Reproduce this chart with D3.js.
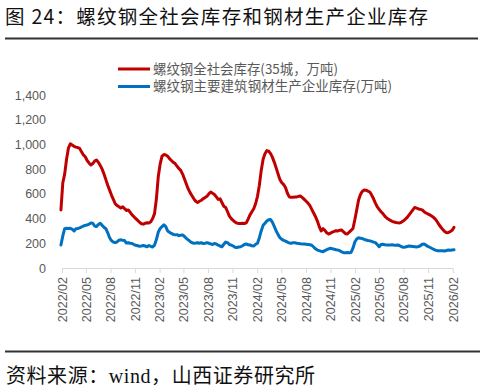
<!DOCTYPE html>
<html><head><meta charset="utf-8">
<script src="https://cdn.jsdelivr.net/npm/d3@7"></script>
<style>body{margin:0;background:#fff;}svg{display:block;}</style>
</head><body>
<svg id="c" width="485" height="392"></svg>
<script>
const titleText = "图 24：螺纹钢全社会库存和钢材生产企业库存";
const sourceText = ["资料来源：", "wind", "，山西证券研究所"];
const seriesNames = ["螺纹钢全社会库存(35城，万吨)", "螺纹钢主要建筑钢材生产企业库存(万吨)"];
const startDate = "2022-01-28"; // first weekly observation
const yTicks = [0, 200, 400, 600, 800, 1000, 1200, 1400];
const xTickLabels = ["2022/02","2022/05","2022/08","2022/11","2023/02","2023/05","2023/08","2023/11","2024/02","2024/05","2024/08","2024/11","2025/02","2025/05","2025/08","2025/11","2026/02"];

const socialInv = [
470,690,760,880,970,1005,995,985,978,975,968,940,915,900,870,850,834,845,865,874,
855,830,800,760,715,670,630,590,555,520,505,495,485,495,480,465,470,450,430,415,
400,385,370,358,355,362,366,365,375,400,440,560,740,840,905,918,915,905,885,870,
855,845,825,805,790,760,720,680,640,610,585,560,540,530,540,548,562,570,580,600,
615,605,595,575,555,560,530,500,490,455,420,400,385,372,363,360,360,362,360,365,
395,430,455,480,520,580,670,790,880,925,950,945,925,895,855,810,760,715,690,675,
650,605,575,572,572,574,575,580,582,570,555,540,525,505,475,445,415,380,335,300,
318,305,285,275,282,290,296,302,300,306,308,292,278,276,290,305,320,390,470,550,
595,620,632,630,622,615,590,560,525,495,475,455,440,420,405,395,385,378,372,368,
366,365,372,382,395,410,430,450,470,490,484,478,475,470,455,445,438,430,420,410,
395,375,350,330,312,295,285,288,295,305,330];

const millInv = [
186,260,318,322,320,321,315,300,318,320,325,332,340,345,348,355,365,362,340,335,
352,362,345,330,318,285,245,222,210,205,212,225,228,224,222,202,205,200,198,190,
184,180,176,178,182,178,172,182,175,170,185,230,290,320,335,350,335,300,290,280,
272,268,270,262,265,268,255,240,228,215,205,200,202,205,200,205,198,200,205,200,
195,190,198,195,185,178,172,192,210,205,190,185,178,168,166,170,172,180,190,195,
188,186,180,178,192,200,245,300,345,362,380,390,392,370,335,300,270,245,232,224,
218,210,202,200,205,204,200,198,196,195,194,192,190,188,184,170,155,145,140,135,
132,140,148,155,160,155,152,148,145,140,130,124,124,125,124,126,160,210,235,245,
240,238,232,226,222,220,215,210,205,190,172,190,192,188,186,187,186,188,185,184,
186,180,172,167,170,174,178,176,174,172,170,174,180,192,194,185,175,168,160,152,
145,140,140,140,140,138,142,146,144,146,148];

const colors = ["#C00000", "#0070C0"];

const svg = d3.select("#c");
const parse = d3.timeParse("%Y-%m-%d");
const parseM = d3.timeParse("%Y/%m");
const t0 = parse(startDate);
const dates = socialInv.map((_, i) => d3.timeDay.offset(t0, 7 * i));

const x = d3.scaleTime().domain([parseM(xTickLabels[0]), parseM(xTickLabels[xTickLabels.length-1])]).range([62, 452.7]);
const y = d3.scaleLinear().domain([0, 1400]).range([268, 95]);

// title
svg.append("text").attr("x", 5).attr("y", 24).attr("font-family", "'Noto Sans CJK SC', sans-serif")
  .attr("font-size", 19.5).attr("fill", "#111").attr("textLength", 423).attr("lengthAdjust", "spacing").text(titleText);
svg.append("line").attr("x1", 5).attr("x2", 478).attr("y1", 38.5).attr("y2", 38.5).attr("stroke", "#333").attr("stroke-width", 1.8);

// y axis
const yAxis = d3.axisLeft(y).tickValues(yTicks).tickSize(0).tickPadding(0).tickFormat(d3.format(","));
const gy = svg.append("g").attr("transform", "translate(46,0)").call(yAxis);
gy.select(".domain").remove();
gy.selectAll("text").attr("font-family", "'Liberation Sans', Arial, sans-serif").attr("font-size", 12.5).attr("fill", "#595959");

// x axis
const xAxis = d3.axisBottom(x).tickValues(xTickLabels.map(parseM)).tickSize(5).tickFormat(d3.timeFormat("%Y/%m"));
const gx = svg.append("g").attr("transform", "translate(0,268)").call(xAxis);
gx.select(".domain").attr("stroke", "#d9d9d9").attr("d", "M62,0.5H452.7");
gx.selectAll(".tick line").attr("stroke", "#d9d9d9");
gx.selectAll("text").attr("font-family", "'Liberation Sans', Arial, sans-serif").attr("font-size", 12.5).attr("fill", "#595959")
  .attr("transform", "rotate(-90)").attr("text-anchor", "end").attr("x", -9).attr("y", 0).attr("dy", "0.35em");

// lines
const line = d3.line().x((d, i) => x(dates[i])).y(d => y(d)).curve(d3.curveLinear);
[socialInv, millInv].forEach((s, k) => {
  svg.append("path").datum(s).attr("d", line).attr("fill", "none").attr("stroke", colors[k])
    .attr("stroke-width", 3).attr("stroke-linejoin", "round").attr("stroke-linecap", "round");
});

// legend
const ly = [69, 86.5];
const lw = [185, 239];
seriesNames.forEach((n, k) => {
  svg.append("line").attr("x1", 118).attr("x2", 150).attr("y1", ly[k]).attr("y2", ly[k]).attr("stroke", colors[k]).attr("stroke-width", 3);
  svg.append("text").attr("x", 153).attr("y", ly[k]).attr("dy", "0.35em").attr("font-family", "'Noto Sans CJK SC', sans-serif")
    .attr("font-size", 13.2).attr("fill", "#595959").attr("textLength", lw[k]).attr("lengthAdjust", "spacingAndGlyphs").text(n);
});

// footer
svg.append("line").attr("x1", 5).attr("x2", 480).attr("y1", 351.5).attr("y2", 351.5).attr("stroke", "#333").attr("stroke-width", 1.8);
const ft = svg.append("text").attr("x", 6).attr("y", 383).attr("font-size", 20).attr("fill", "#111")
  .attr("textLength", 309).attr("lengthAdjust", "spacing");
ft.append("tspan").attr("font-family", "'Noto Sans CJK SC', sans-serif").text(sourceText[0]);
ft.append("tspan").attr("font-family", "'Liberation Serif', serif").text(sourceText[1]);
ft.append("tspan").attr("font-family", "'Noto Sans CJK SC', sans-serif").text(sourceText[2]);
</script>
</body></html>
